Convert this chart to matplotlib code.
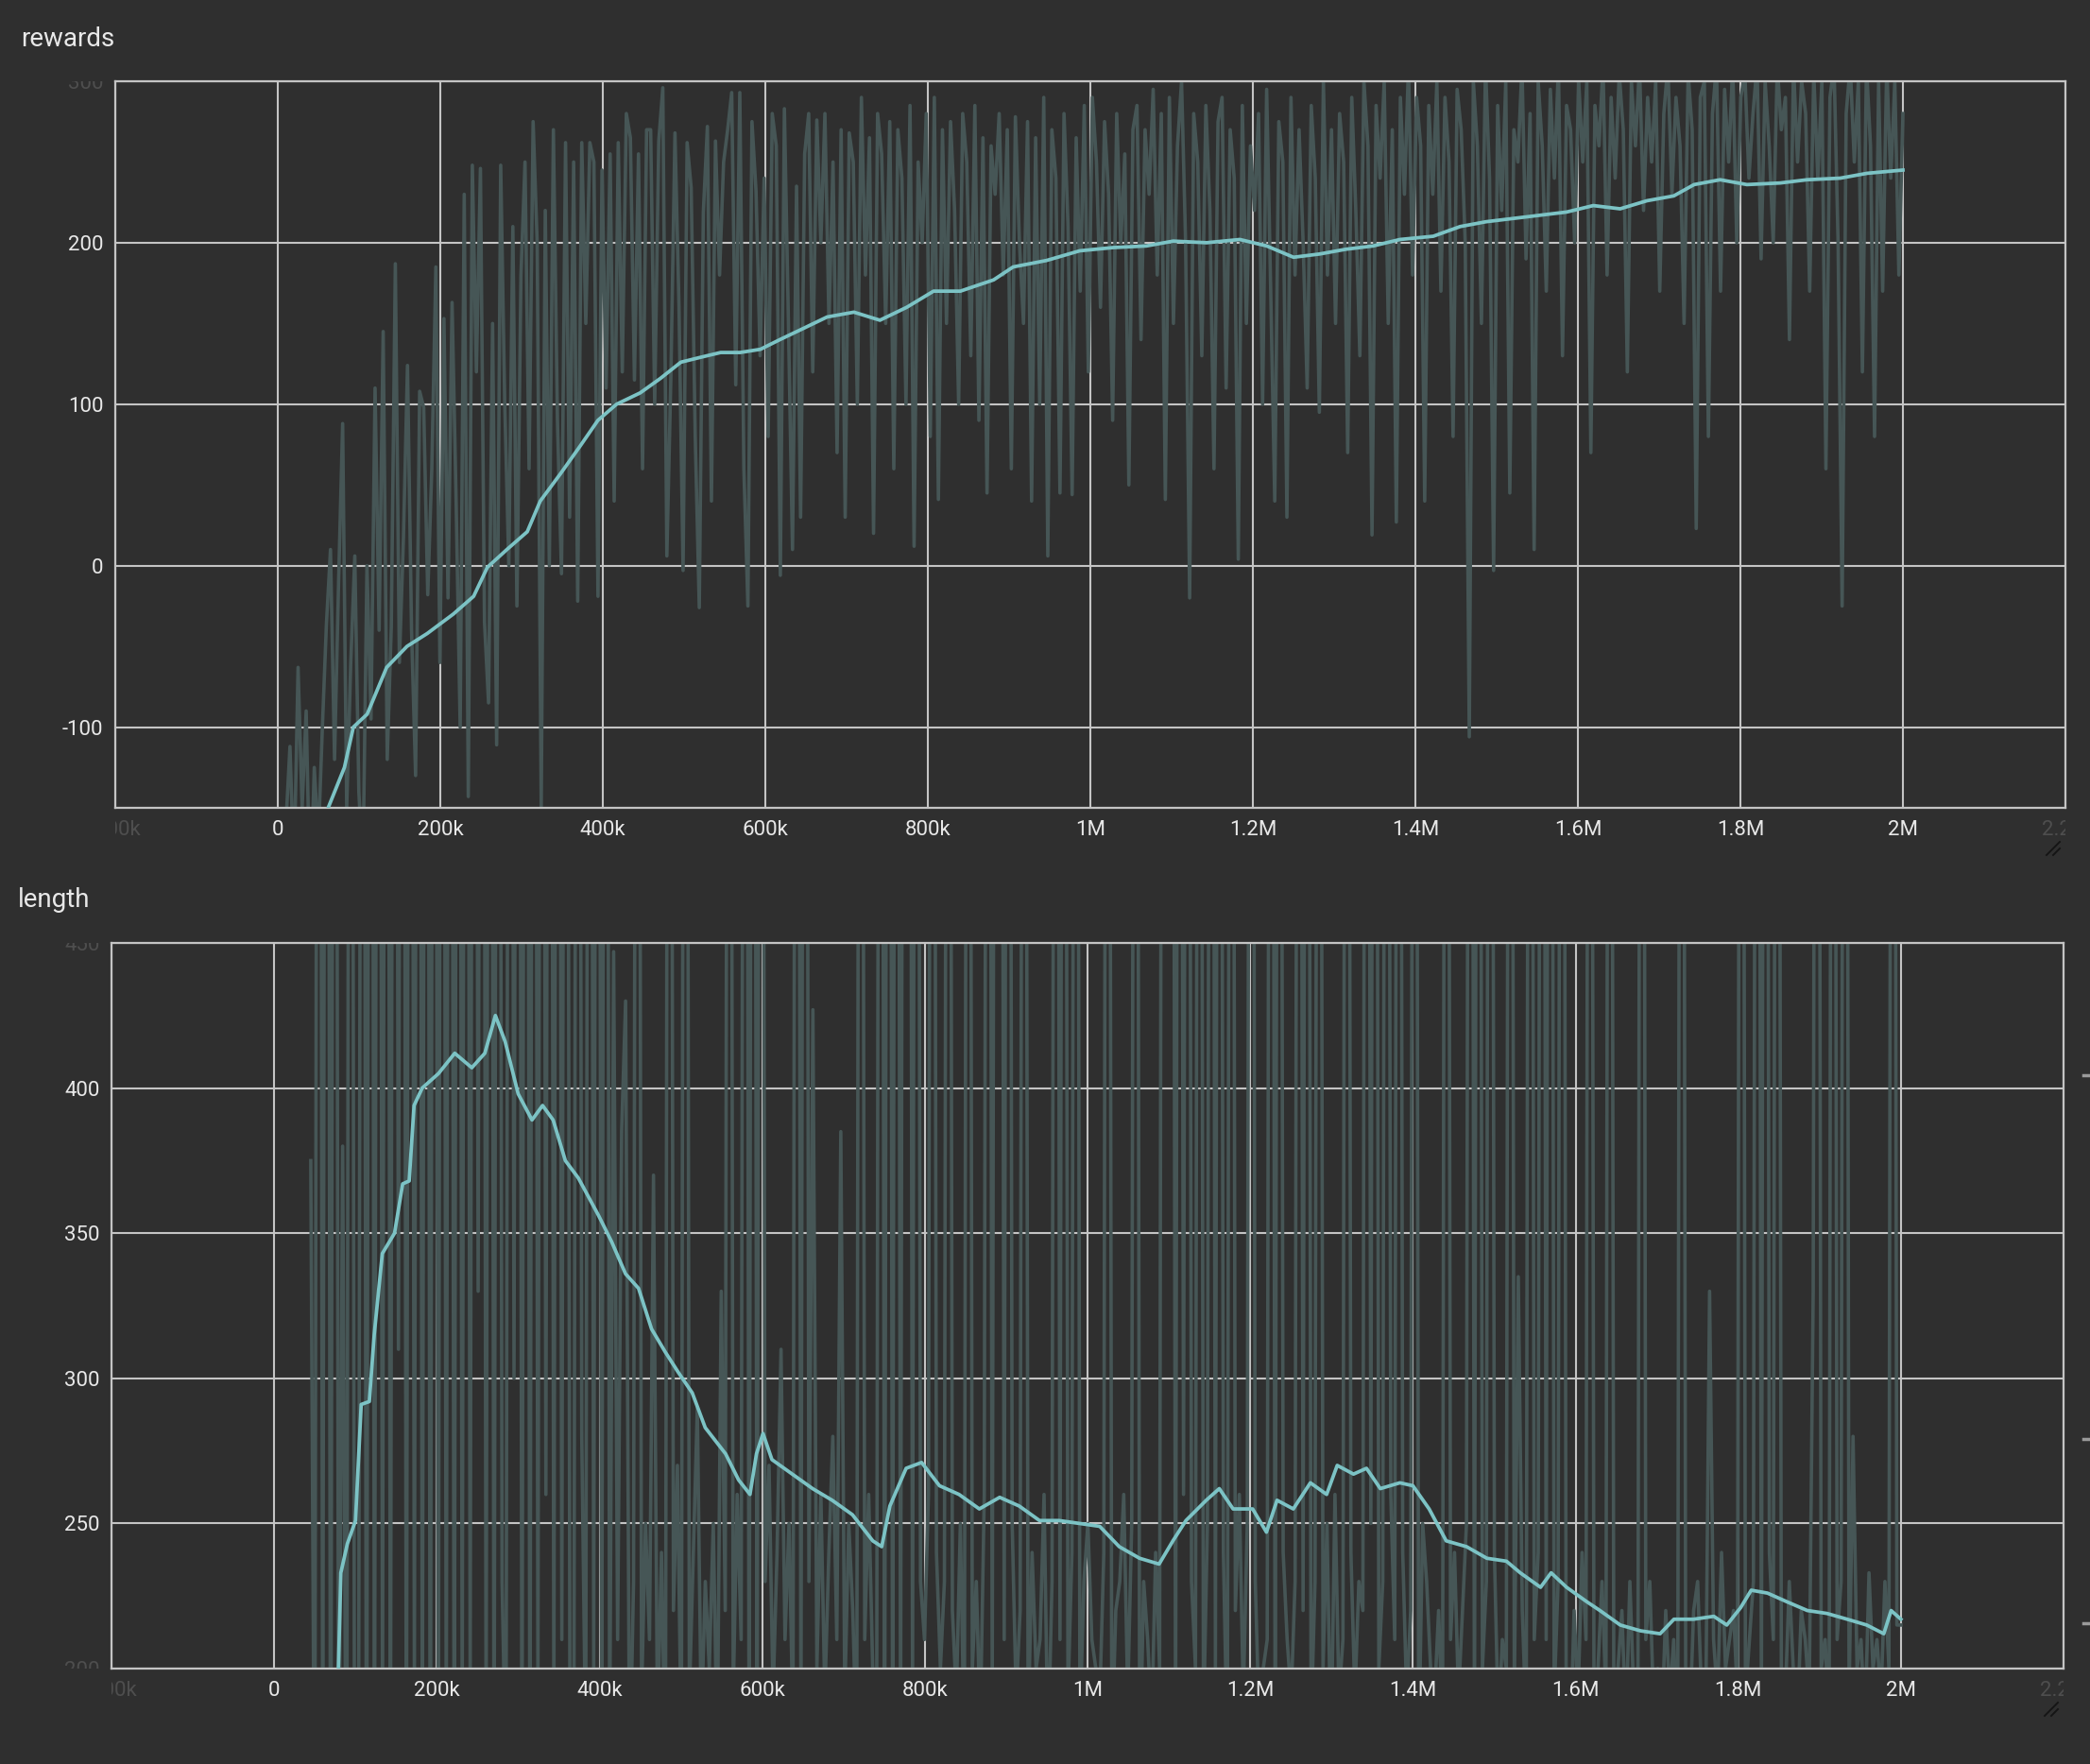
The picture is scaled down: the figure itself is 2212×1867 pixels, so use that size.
import numpy as np
import matplotlib
matplotlib.use('Agg')
import matplotlib.pyplot as plt
import matplotlib.transforms as mtransforms
from matplotlib.lines import Line2D

plt.rcParams['font.family'] = ['Roboto', 'DejaVu Sans']

BG = '#2f2f2f'
RAW = '#465656'
SMOOTH = '#7cc3c5'
GRID = '#c4c4c4'
TXT = '#e8e8e8'
DIM = '#4e4e4e'

# shared x axis
x_lim = (-200_000, 2_200_000)
x_ticks = [0, 200_000, 400_000, 600_000, 800_000, 1_000_000, 1_200_000,
           1_400_000, 1_600_000, 1_800_000, 2_000_000]
x_tick_labels = ['0', '200k', '400k', '600k', '800k', '1M', '1.2M',
                 '1.4M', '1.6M', '1.8M', '2M']
x_edge_ticks = [-200_000, 2_200_000]
x_edge_labels = ['-200k', '2.2M']

# rewards panel
reward_raw = [
    -160, -112, -190, -63, -150, -90, -210, -125, -170, -100,
    -36, 10, -120, -10, 88, -150, -60, 6, -140, -190,
    0, -95, 110, -40, 145, -120, -38, 187, -60, 17,
    124, -40, -130, 108, 98, -18, 60, 185, -60, 153,
    -20, 163, 40, -100, 230, -143, 248, 120, 246, -35,
    -85, 150, -111, 248, 100, 0, 210, -25, 180, 250,
    60, 275, 200, -150, 220, 0, 270, 90, -5, 262,
    30, 250, -22, 262, 150, 262, 250, -19, 245, 110,
    255, 40, 262, 120, 280, 265, 115, 255, 60, 270,
    270, 100, 263, 296, 6, 118, 268, 160, -3, 262,
    234, 80, -26, 219, 272, 40, 263, 180, 250, 270,
    293, 112, 293, 60, -25, 275, 232, 130, 240, 80,
    280, 260, -6, 283, 150, 10, 235, 30, 255, 280,
    120, 276, 200, 280, 150, 250, 70, 270, 30, 268,
    250, 100, 290, 180, 265, 20, 280, 255, 150, 275,
    60, 270, 240, 100, 285, 12, 250, 200, 280, 80,
    290, 41, 270, 150, 275, 220, 100, 280, 250, 130,
    285, 90, 265, 45, 260, 230, 280, 180, 270, 60,
    278, 200, 150, 275, 40, 265, 100, 290, 6, 270,
    240, 45, 280, 210, 44, 265, 170, 285, 120, 290,
    250, 160, 275, 230, 90, 280, 200, 255, 50, 270,
    285, 140, 270, 230, 295, 180, 280, 41, 290, 150,
    260, 300, 200, -20, 280, 250, 130, 285, 220, 60,
    275, 290, 110, 270, 240, 4, 285, 150, 260, 220,
    280, 100, 295, 170, 40, 275, 250, 30, 290, 180,
    270, 200, 110, 285, 240, 95, 300, 180, 270, 150,
    280, 250, 70, 290, 220, 130, 300, 260, 19, 285,
    240, 300, 150, 270, 27, 290, 230, 310, 180, 290,
    260, 40, 285, 230, 300, 170, 290, 250, 80, 295,
    270, 200, -106, 300, 260, 150, 310, 240, -3, 285,
    220, 300, 45, 270, 250, 310, 190, 280, 10, 300,
    260, 170, 295, 240, 310, 130, 285, 270, 200, 300,
    250, 300, 70, 285, 260, 310, 180, 290, 240, 305,
    270, 120, 300, 260, 310, 220, 290, 250, 300, 170,
    280, 310, 230, 290, 260, 150, 305, 270, 23, 290,
    300, 80, 280, 310, 170, 295, 250, 310, 200, 290,
    305, 240, 280, 310, 190, 300, 260, 200, 310, 270,
    290, 140, 310, 250, 300, 280, 170, 305, 240, 300,
    60, 290, 310, 200, -25, 280, 310, 250, 300, 120,
    310, 260, 80, 300, 170, 310, 240, 300, 180, 280,
]
reward_raw_steps = np.linspace(10_000, 2_000_000, len(reward_raw))

reward_smooth_steps = [
    50_000, 62_000, 82_000, 93_000, 110_000, 134_000, 159_000, 184_000,
    216_000, 241_000, 258_000, 282_000, 307_000, 323_000, 348_000, 372_000,
    394_000, 417_000, 446_000, 471_000, 496_000, 520_000, 545_000, 569_000,
    594_000, 618_000, 643_000, 676_000, 709_000, 741_000, 774_000, 807_000,
    840_000, 881_000, 905_000, 946_000, 987_000, 1_028_000, 1_069_000,
    1_102_000, 1_143_000, 1_184_000, 1_217_000, 1_250_000, 1_282_000,
    1_315_000, 1_348_000, 1_381_000, 1_422_000, 1_455_000, 1_487_000,
    1_520_000, 1_553_000, 1_586_000, 1_619_000, 1_652_000, 1_685_000,
    1_718_000, 1_743_000, 1_775_000, 1_808_000, 1_849_000, 1_882_000,
    1_923_000, 1_956_000, 2_000_000,
]
reward_smooth = [
    -175, -150, -125, -100, -92, -63, -50, -42, -30, -19, -1, 10, 21, 40,
    57, 74, 90, 100, 107, 116, 126, 129, 132, 132, 134, 140, 146, 154, 157,
    152, 160, 170, 170, 177, 185, 189, 195, 197, 198, 201, 200, 202, 198,
    191, 193, 196, 198, 202, 204, 210, 213, 215, 217, 219, 223, 221, 226,
    229, 236, 239, 236, 237, 239, 240, 243, 245,
]
reward_ylim = (-150, 300)
reward_yticks = [-100, 0, 100, 200]
reward_ytick_labels = ['-100', '0', '100', '200']

# length panel
length_raw = [
    375, 120, 1000, 150, 1000, 90, 1000, 130, 380, 110,
    1000, 140, 160, 1000, 100, 1000, 150, 1000, 180, 1000,
    150, 1000, 310, 1000, 140, 1000, 190, 1000, 160, 1000,
    120, 1000, 150, 1000, 170, 1000, 130, 1000, 180, 1000,
    190, 1000, 330, 1000, 170, 1000, 140, 1000, 230, 160,
    1000, 300, 1000, 150, 1000, 140, 1000, 190, 1000, 260,
    1000, 180, 1000, 210, 1000, 200, 150, 1000, 280, 170,
    1000, 200, 1000, 150, 1000, 170, 447, 210, 385, 430,
    160, 230, 1000, 190, 250, 210, 370, 180, 240, 160,
    1000, 220, 270, 170, 1000, 190, 240, 290, 180, 230,
    200, 250, 170, 330, 220, 1000, 190, 260, 210, 1000,
    150, 1000, 160, 1000, 230, 270, 190, 240, 310, 210,
    250, 180, 1000, 170, 1000, 230, 427, 200, 260, 190,
    240, 280, 210, 385, 190, 250, 220, 170, 1000, 210,
    260, 200, 180, 1000, 150, 1000, 160, 1000, 170, 1000,
    1000, 190, 1000, 230, 210, 260, 1000, 240, 200, 230,
    1000, 220, 190, 250, 170, 1000, 200, 230, 180, 260,
    1000, 190, 1000, 1000, 210, 1000, 250, 190, 220, 1000,
    180, 240, 200, 210, 260, 170, 230, 1000, 210, 1000,
    190, 240, 1000, 180, 230, 250, 210, 200, 190, 240,
    1000, 170, 220, 230, 260, 190, 250, 1000, 160, 230,
    210, 180, 240, 200, 1000, 1000, 1000, 170, 1000, 260,
    1000, 230, 200, 1000, 180, 250, 1000, 200, 1000, 240,
    170, 1000, 220, 260, 190, 250, 1000, 230, 180, 200,
    210, 1000, 160, 1000, 240, 210, 190, 230, 1000, 220,
    1000, 180, 230, 1000, 200, 250, 170, 260, 190, 210,
    1000, 240, 190, 230, 220, 1000, 250, 1000, 200, 230,
    1000, 260, 210, 1000, 240, 190, 220, 1000, 170, 250,
    230, 200, 190, 220, 180, 1000, 210, 240, 190, 220,
    250, 1000, 170, 1000, 200, 230, 1000, 240, 180, 210,
    200, 1000, 190, 335, 220, 180, 1000, 210, 240, 1000,
    210, 1000, 190, 230, 1000, 200, 170, 220, 190, 240,
    210, 1000, 180, 200, 230, 190, 1000, 160, 200, 220,
    180, 230, 190, 170, 1000, 210, 230, 185, 200, 180,
    220, 190, 210, 170, 1000, 200, 180, 220, 230, 190,
    180, 330, 210, 190, 240, 200, 210, 220, 190, 1000,
    190, 210, 230, 1000, 180, 1000, 240, 210, 1000, 200,
    190, 230, 200, 180, 220, 210, 190, 330, 1000, 200,
    210, 180, 1000, 210, 230, 1000, 190, 280, 200, 210,
    180, 233, 200, 210, 190, 230, 200, 1000, 215, 215,
]
length_raw_steps = np.linspace(45_000, 2_000_000, len(length_raw))

length_smooth_steps = [
    78_000, 79_000, 82_000, 90_000, 100_000, 107_000, 117_000, 123_000,
    133_000, 148_000, 158_000, 166_000, 172_000, 182_000, 202_000, 222_000,
    243_000, 259_000, 272_000, 284_000, 300_000, 317_000, 330_000, 343_000,
    358_000, 374_000, 399_000, 415_000, 432_000, 448_000, 464_000, 481_000,
    497_000, 514_000, 530_000, 555_000, 571_000, 585_000, 593_000, 601_000,
    612_000, 637_000, 662_000, 686_000, 711_000, 736_000, 747_000, 757_000,
    777_000, 796_000, 818_000, 842_000, 867_000, 892_000, 916_000, 941_000,
    965_000, 990_000, 1_015_000, 1_039_000, 1_064_000, 1_088_000, 1_105_000,
    1_121_000, 1_146_000, 1_162_000, 1_179_000, 1_203_000, 1_220_000,
    1_233_000, 1_253_000, 1_274_000, 1_294_000, 1_307_000, 1_327_000,
    1_343_000, 1_360_000, 1_384_000, 1_400_000, 1_420_000, 1_441_000,
    1_466_000, 1_491_000, 1_515_000, 1_532_000, 1_557_000, 1_570_000,
    1_589_000, 1_614_000, 1_630_000, 1_655_000, 1_680_000, 1_704_000,
    1_721_000, 1_745_000, 1_770_000, 1_786_000, 1_803_000, 1_816_000,
    1_836_000, 1_860_000, 1_885_000, 1_909_000, 1_934_000, 1_958_000,
    1_979_000, 1_988_000, 2_000_000,
]
length_smooth = [
    190, 200, 233, 243, 251, 291, 292, 315, 343, 350, 367, 368, 394, 400,
    405, 412, 407, 412, 425, 416, 398, 389, 394, 389, 375, 369, 356, 347,
    336, 331, 317, 309, 302, 295, 283, 274, 265, 260, 274, 281, 272, 267,
    262, 258, 253, 244, 242, 256, 269, 271, 263, 260, 255, 259, 256, 251,
    251, 250, 249, 242, 238, 236, 244, 251, 258, 262, 255, 255, 247, 258,
    255, 264, 260, 270, 267, 269, 262, 264, 263, 255, 244, 242, 238, 237,
    233, 228, 233, 228, 223, 220, 215, 213, 212, 217, 217, 218, 215, 221,
    227, 226, 223, 220, 219, 217, 215, 212, 220, 217,
]
length_ylim = (200, 450)
length_yticks = [250, 300, 350, 400]
length_ytick_labels = ['250', '300', '350', '400']

W, H = 2212, 1867
fig = plt.figure(figsize=(W / 100, H / 100), dpi=100, facecolor=BG)


def clip_box(x0, y0, x1, y1):
    return mtransforms.TransformedBbox(
        mtransforms.Bbox([[x0, y0], [x1, y1]]), fig.transFigure)


def panel(box, title, title_pos, raw_x, raw_y, sm_x, sm_y, ylim, yticks,
          ylabels, edge_y):
    l, t, r, b = box
    ax = fig.add_axes([l / W, 1 - b / H, (r - l) / W, (b - t) / H])
    ax.set_facecolor(BG)
    ax.plot(raw_x, raw_y, color=RAW, lw=2.6, zorder=2)
    ax.plot(sm_x, sm_y, color=SMOOTH, lw=2.7, zorder=3)
    ax.set_xlim(*x_lim)
    ax.set_ylim(*ylim)

    ax.set_xticks(x_ticks + x_edge_ticks)
    ax.set_xticklabels(x_tick_labels + ['', ''])
    ax.set_yticks(yticks + [e[0] for e in edge_y])
    ax.set_yticklabels(ylabels + ['' for _ in edge_y])
    ax.tick_params(length=0, colors=TXT, labelsize=16)
    ax.tick_params(axis='x', pad=9)
    ax.tick_params(axis='y', pad=9)
    ax.grid(True, color=GRID, lw=1.5, zorder=1)
    ax.set_axisbelow(True)
    for s in ax.spines.values():
        s.set_color(GRID)
        s.set_linewidth(1.6)

    # faded, half-hidden labels at the axis ends
    x0, y0, x1, y1 = l / W, 1 - b / H, r / W, 1 - t / H
    off_x = mtransforms.ScaledTranslation(0, -9 / 72, fig.dpi_scale_trans)
    off_y = mtransforms.ScaledTranslation(-9 / 72, 0, fig.dpi_scale_trans)
    tx = mtransforms.blended_transform_factory(ax.transData, ax.transAxes)
    ty = mtransforms.blended_transform_factory(ax.transAxes, ax.transData)
    for xv, lab in zip(x_edge_ticks, x_edge_labels):
        tt = ax.text(xv, 0, lab, transform=tx + off_x, ha='center', va='top',
                     color=DIM, fontsize=16, clip_on=True)
        tt.set_clip_path(None)
        tt.set_clip_box(clip_box(x0, 0, x1, 1))
    for yv, lab in edge_y:
        tt = ax.text(0, yv, lab, transform=ty + off_y, ha='right',
                     va='center_baseline', color=DIM, fontsize=16, clip_on=True)
        tt.set_clip_path(None)
        tt.set_clip_box(clip_box(0, y0, x0, y1))

    fig.text(title_pos[0] / W, 1 - title_pos[1] / H, title, color=TXT,
             fontsize=20, ha='left', va='baseline')

    # resize grip under the panel
    gx, gy = (r - 6) / W, 1 - (b + 50) / H
    for k in (0, 7):
        fig.add_artist(Line2D([gx - (14 - k) / W, gx], [gy, gy + (14 - k) / H],
                              transform=fig.transFigure, color='#151515', lw=1.4))
    return ax


panel((122, 86, 2186, 855), 'rewards', (22, 49), reward_raw_steps, reward_raw,
      reward_smooth_steps, reward_smooth, reward_ylim, reward_yticks,
      reward_ytick_labels, [(300, '300')])
panel((118, 998, 2184, 1766), 'length', (19, 960), length_raw_steps, length_raw,
      length_smooth_steps, length_smooth, length_ylim, length_yticks,
      length_ytick_labels, [(450, '450'), (200, '200')])

# scroll markers on the right edge
for yy in (1138, 1523, 1718):
    fig.add_artist(Line2D([2205 / W, 2212 / W], [1 - yy / H, 1 - yy / H],
                          transform=fig.transFigure, color='#9a9a9a', lw=2.5))

fig.savefig('out.png', dpi=100, facecolor=BG)
